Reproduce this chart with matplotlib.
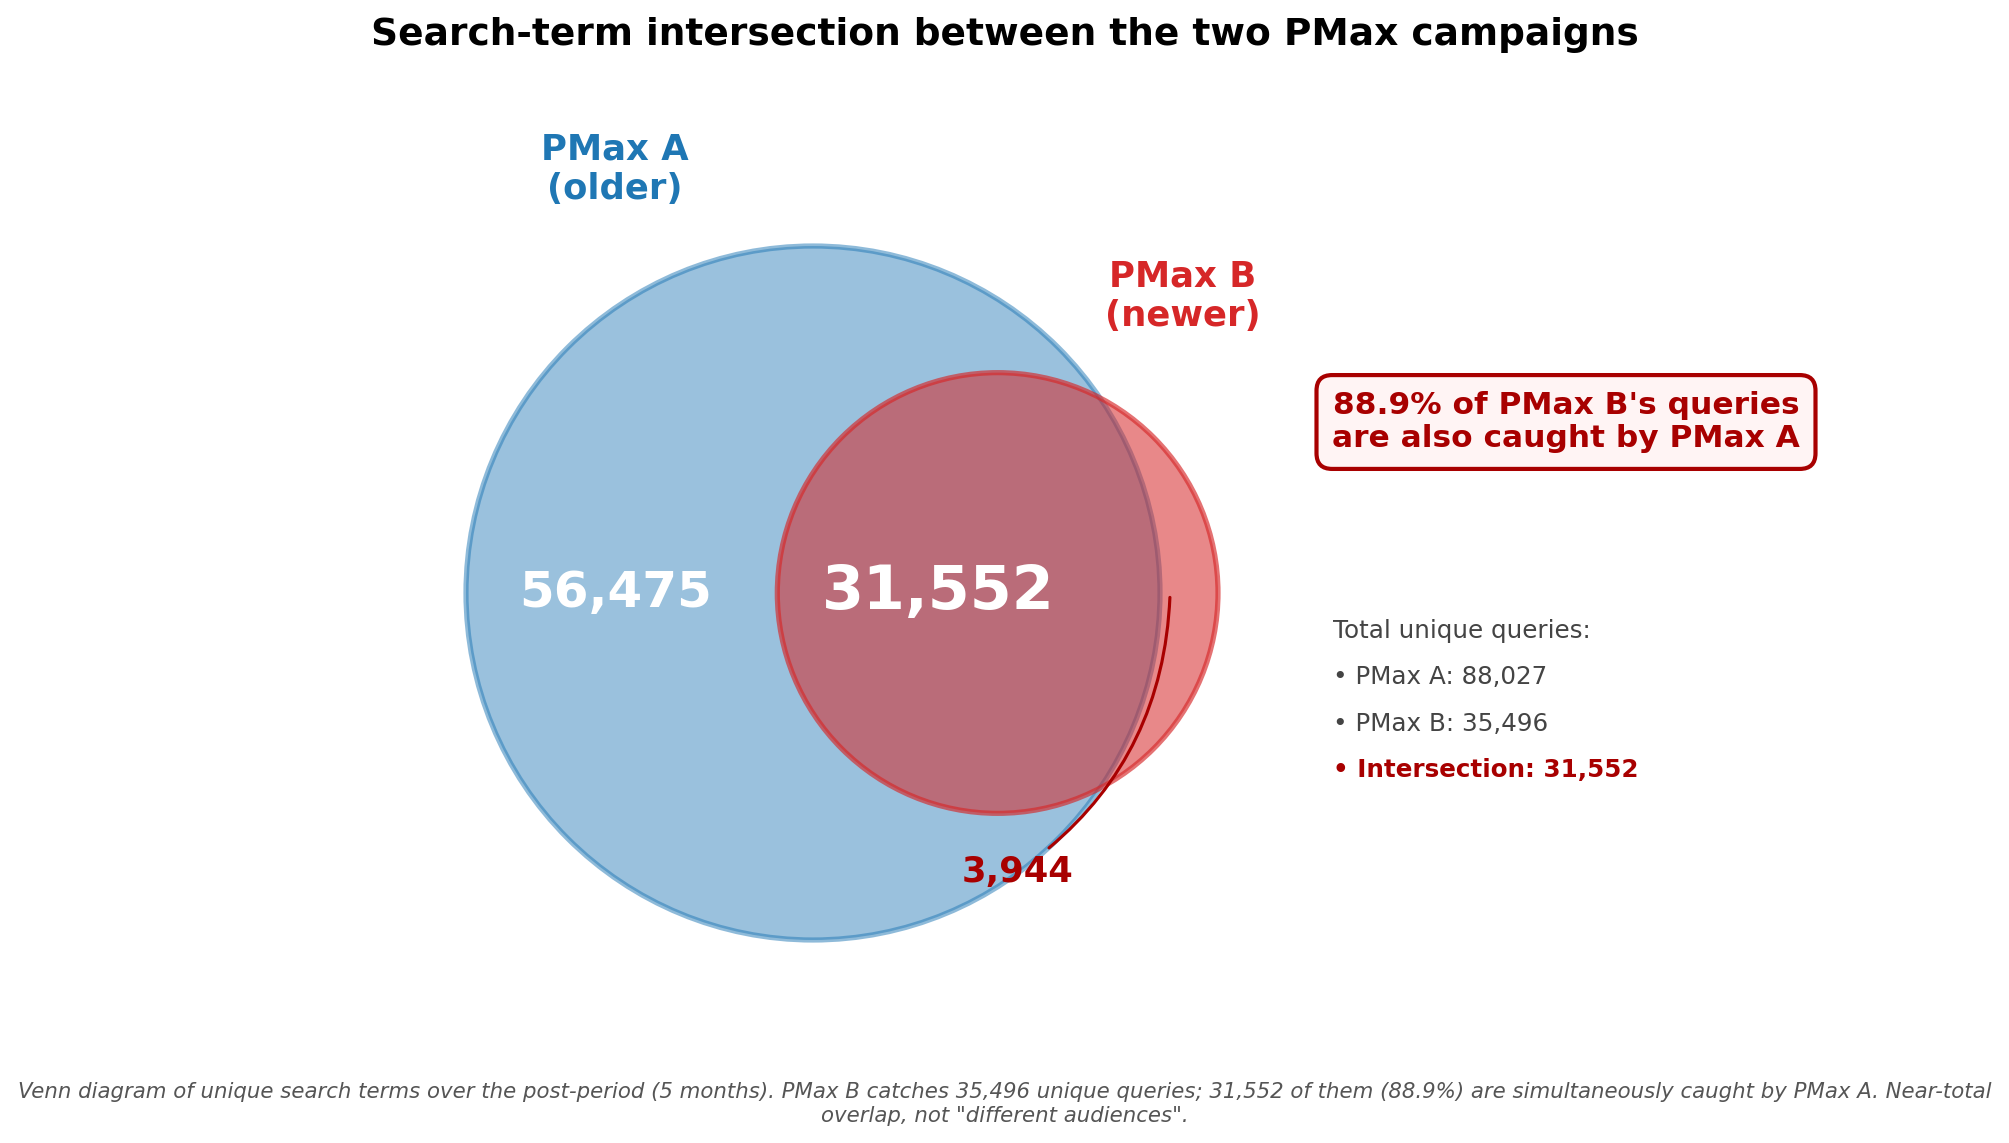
import numpy as np
import matplotlib
matplotlib.use("Agg")
import matplotlib.pyplot as plt
from matplotlib.patches import Circle

# data
set_names = ["PMax A\n(older)", "PMax B\n(newer)"]
total_a = 88027
total_b = 35496
overlap = 31552
only_a = total_a - overlap
only_b = total_b - overlap
share_b = overlap / total_b * 100

title = "Search-term intersection between the two PMax campaigns"
caption = ("Venn diagram of unique search terms over the post-period (5 months). "
           "PMax B catches 35,496 unique queries; 31,552 of them (88.9%) are "
           "simultaneously caught by PMax A. Near-total\noverlap, not \"different audiences\".")

dark_red = "#a80000"
blue = "#1f77b4"
red = "#d62728"


def lens_area(d, r1, r2):
    if d >= r1 + r2:
        return 0.0
    if d <= abs(r1 - r2):
        return np.pi * min(r1, r2) ** 2
    a1 = r1 ** 2 * np.arccos((d ** 2 + r1 ** 2 - r2 ** 2) / (2 * d * r1))
    a2 = r2 ** 2 * np.arccos((d ** 2 + r2 ** 2 - r1 ** 2) / (2 * d * r2))
    a3 = 0.5 * np.sqrt((-d + r1 + r2) * (d + r1 - r2) * (d - r1 + r2) * (d + r1 + r2))
    return a1 + a2 - a3


def main():
    W, H, dpi = 2009, 1143, 150
    fig = plt.figure(figsize=(W / dpi, H / dpi), dpi=dpi)
    ax = fig.add_axes([0, 0, 1, 1])

    # area-proportional circles
    ra = np.sqrt(total_a / np.pi)
    rb = np.sqrt(total_b / np.pi)
    lo, hi = abs(ra - rb), ra + rb
    for _ in range(80):
        mid = 0.5 * (lo + hi)
        if lens_area(mid, ra, rb) > overlap:
            lo = mid
        else:
            hi = mid
    d = 0.5 * (lo + hi)

    # pixel placement of circle A centre
    s = 347 / ra
    cx, cy = 813, 593
    ax.set_xlim(-cx / s, (W - cx) / s)
    ax.set_ylim(-(H - cy) / s, cy / s)
    ax.axis("off")

    ax.add_patch(Circle((0, 0), ra, facecolor=(0.122, 0.467, 0.706, 0.45),
                        edgecolor=(0.122, 0.467, 0.706, 0.5), lw=2.5))
    ax.add_patch(Circle((d, 0), rb, facecolor=(0.839, 0.153, 0.157, 0.55),
                        edgecolor=(0.839, 0.153, 0.157, 0.65), lw=2.5))

    ax.text(-0.57 * ra, 1.22 * ra, set_names[0], color=blue, fontsize=17,
            fontweight="bold", ha="center", va="center")
    ax.text(d + 0.84 * rb, 1.345 * rb, set_names[1], color=red, fontsize=17,
            fontweight="bold", ha="center", va="center")

    ax.text(-0.57 * ra, 0, f"{only_a:,}", color="white", fontsize=24,
            fontweight="bold", ha="center", va="center")
    ax.text(d - 0.27 * rb, 0, f"{overlap:,}", color="white", fontsize=29,
            fontweight="bold", ha="center", va="center")

    ax.annotate(f"{only_b:,}", xy=(ra + 0.045 * rb, -0.02 * rb),
                xytext=(d + 0.09 * rb, -1.265 * rb),
                color=dark_red, fontsize=17, fontweight="bold",
                ha="center", va="center",
                arrowprops=dict(arrowstyle="-", color=dark_red, lw=1.5,
                                shrinkB=0,
                                connectionstyle="arc3,rad=0.25"))

    fig.text(0.5, 1 - 35 / H, title, fontsize=18, fontweight="bold",
             ha="center", va="center")

    fig.text(1566 / W, 1 - 422 / H,
             f"{share_b:.1f}% of PMax B's queries\nare also caught by PMax A",
             color=dark_red, fontsize=15, fontweight="bold", ha="center", va="center",
             bbox=dict(boxstyle="round,pad=0.5", fc="#fff4f4", ec=dark_red, lw=2))

    lines = ["Total unique queries:",
             f"\u2022 PMax A: {total_a:,}",
             f"\u2022 PMax B: {total_b:,}",
             f"\u2022 Intersection: {overlap:,}"]
    ys = [631, 677, 724, 770]
    for i, (txt, y) in enumerate(zip(lines, ys)):
        last = i == len(lines) - 1
        fig.text(1333 / W, 1 - y / H, txt, fontsize=11.8,
                 color=dark_red if last else "#444444",
                 fontweight="bold" if last else "normal",
                 ha="left", va="center")

    fig.text(0.5, 1 - 1104 / H, caption, fontsize=10.2, style="italic",
             color="#555555", ha="center", va="center")

    fig.savefig("out.png", dpi=dpi)


if __name__ == "__main__":
    main()
